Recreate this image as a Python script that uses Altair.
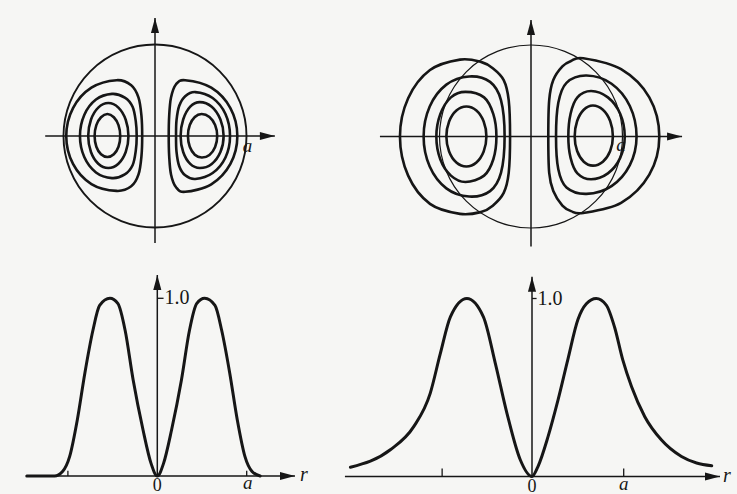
import altair as alt
import pandas as pd

INK = "#161616"
PAPER = "#f6f6f4"
SERIF = "Liberation Serif"

# ---------------------------------------------------------------------------
# Radial field profiles (r in units of the core radius a, field normalised to 1)
# ---------------------------------------------------------------------------
core_r = [-1.46, -1.15, -1.06, -0.98, -0.895, -0.81, -0.72, -0.645, -0.53, -0.44,
          -0.36, -0.27, -0.16, -0.07, 0.0, 0.07, 0.16, 0.27, 0.36, 0.44, 0.53,
          0.645, 0.72, 0.81, 0.895, 0.98, 1.06, 1.15]
core_field = [0.0, 0.0, 0.025, 0.11, 0.315, 0.58, 0.82, 0.96, 1.0, 0.97,
              0.82, 0.54, 0.26, 0.071, 0.0, 0.071, 0.26, 0.54, 0.82, 0.97, 1.0,
              0.96, 0.82, 0.58, 0.315, 0.11, 0.025, 0.0]

guide_r = [-1.98, -1.545, -1.29, -1.11, -1.0, -0.89, -0.71, -0.53, -0.40, -0.273,
           -0.128, 0.0, 0.065, 0.175, 0.284, 0.39, 0.50, 0.593, 0.70, 0.81, 0.90,
           0.99, 1.085, 1.23, 1.41, 1.63, 1.96]
guide_field = [0.052, 0.15, 0.28, 0.467, 0.69, 0.897, 1.0, 0.897, 0.636, 0.355,
               0.094, 0.0, 0.056, 0.224, 0.43, 0.655, 0.88, 0.97, 1.0, 0.963, 0.84,
               0.655, 0.505, 0.336, 0.206, 0.112, 0.06]

# ---------------------------------------------------------------------------
# Field lines in the cross-section, (x/a, y/a) around each closed line
# ---------------------------------------------------------------------------
core_lines = [
    # right lobe, inner to outer
    [(0.51, 0.24), (0.595, 0.208), (0.657, 0.12), (0.68, 0.0), (0.657, -0.12),
     (0.595, -0.208), (0.51, -0.235), (0.435, -0.204), (0.38, -0.118), (0.36, 0.0),
     (0.38, 0.12), (0.435, 0.208)],
    [(0.49, 0.37), (0.62, 0.32), (0.715, 0.18), (0.75, 0.0), (0.715, -0.175),
     (0.62, -0.305), (0.49, -0.35), (0.385, -0.305), (0.308, -0.175), (0.28, 0.0),
     (0.308, 0.18), (0.385, 0.32)],
    [(0.44, 0.48), (0.63, 0.415), (0.77, 0.24), (0.82, 0.0), (0.77, -0.235),
     (0.63, -0.405), (0.44, -0.47), (0.33, -0.43), (0.265, -0.33), (0.235, -0.17),
     (0.23, 0.0), (0.235, 0.17), (0.265, 0.33), (0.33, 0.435)],
    [(0.33, 0.61), (0.615, 0.528), (0.824, 0.305), (0.90, 0.0), (0.824, -0.305),
     (0.615, -0.528), (0.33, -0.61), (0.23, -0.56), (0.175, -0.42), (0.155, -0.22),
     (0.15, 0.0), (0.155, 0.22), (0.175, 0.42), (0.23, 0.565)],
    # left lobe, inner to outer
    [(-0.52, 0.24), (-0.59, 0.205), (-0.641, 0.118), (-0.66, 0.0), (-0.641, -0.118),
     (-0.59, -0.2), (-0.52, -0.23), (-0.45, -0.2), (-0.399, -0.118), (-0.38, 0.0),
     (-0.399, 0.118), (-0.45, 0.205)],
    [(-0.51, 0.36), (-0.62, 0.31), (-0.70, 0.178), (-0.73, 0.0), (-0.70, -0.175),
     (-0.62, -0.303), (-0.51, -0.35), (-0.40, -0.303), (-0.32, -0.175), (-0.29, 0.0),
     (-0.32, 0.178), (-0.40, 0.31)],
    [(-0.47, 0.46), (-0.645, 0.398), (-0.773, 0.23), (-0.82, 0.0), (-0.773, -0.23),
     (-0.645, -0.398), (-0.47, -0.46), (-0.33, -0.42), (-0.245, -0.32), (-0.21, -0.16),
     (-0.20, 0.0), (-0.21, 0.16), (-0.245, 0.32), (-0.33, 0.42)],
    [(-0.42, 0.61), (-0.695, 0.528), (-0.896, 0.305), (-0.97, 0.0), (-0.896, -0.305),
     (-0.695, -0.525), (-0.42, -0.60), (-0.26, -0.55), (-0.18, -0.42), (-0.148, -0.22),
     (-0.14, 0.0), (-0.148, 0.22), (-0.18, 0.42), (-0.26, 0.555)],
]

guide_lines = [
    # right lobe, inner to outer
    [(0.68, 0.34), (0.79, 0.294), (0.87, 0.17), (0.90, 0.0), (0.87, -0.16),
     (0.79, -0.277), (0.68, -0.32), (0.58, -0.277), (0.507, -0.16), (0.48, 0.0),
     (0.507, 0.17), (0.58, 0.294)],
    [(0.66, 0.50), (0.845, 0.43), (0.98, 0.25), (1.03, 0.0), (0.98, -0.235),
     (0.845, -0.405), (0.66, -0.47), (0.51, -0.405), (0.435, -0.235), (0.41, 0.0),
     (0.435, 0.25), (0.51, 0.43)],
    [(0.61, 0.67), (0.885, 0.58), (1.086, 0.335), (1.16, 0.0), (1.086, -0.315),
     (0.885, -0.545), (0.61, -0.63), (0.39, -0.56), (0.30, -0.36), (0.275, 0.0),
     (0.30, 0.37), (0.39, 0.59)],
    [(0.575, 0.86), (0.99, 0.74), (1.30, 0.43), (1.41, 0.0), (1.30, -0.42),
     (0.99, -0.73), (0.575, -0.84), (0.44, -0.82), (0.345, -0.76), (0.245, -0.60),
     (0.20, -0.40), (0.19, 0.0), (0.20, 0.40), (0.245, 0.62), (0.345, 0.77),
     (0.44, 0.83)],
    # left lobe, inner to outer
    [(-0.71, 0.33), (-0.82, 0.286), (-0.90, 0.165), (-0.93, 0.0), (-0.90, -0.165),
     (-0.82, -0.286), (-0.71, -0.33), (-0.60, -0.286), (-0.52, -0.165), (-0.49, 0.0),
     (-0.52, 0.165), (-0.60, 0.286)],
    [(-0.72, 0.49), (-0.88, 0.43), (-0.997, 0.245), (-1.04, 0.0), (-0.997, -0.25),
     (-0.88, -0.43), (-0.72, -0.50), (-0.516, -0.43), (-0.414, -0.25), (-0.38, 0.0),
     (-0.414, 0.245), (-0.516, 0.43)],
    [(-0.68, 0.66), (-0.93, 0.57), (-1.113, 0.33), (-1.18, 0.0), (-1.113, -0.33),
     (-0.93, -0.57), (-0.68, -0.66), (-0.45, -0.60), (-0.33, -0.40), (-0.29, 0.0),
     (-0.33, 0.40), (-0.45, 0.60)],
    [(-0.78, 0.845), (-1.11, 0.73), (-1.35, 0.42), (-1.44, 0.0), (-1.35, -0.43),
     (-1.11, -0.74), (-0.78, -0.85), (-0.55, -0.83), (-0.42, -0.76), (-0.30, -0.62),
     (-0.245, -0.40), (-0.23, 0.0), (-0.245, 0.40), (-0.30, 0.62), (-0.42, 0.75),
     (-0.55, 0.82)],
]

# boundary of the core: radius a
core_radius = [1.0]

# arrowhead symbols, tip at the anchor point
HEAD_RIGHT = "M0,0L-1,-0.27L-1,0.27Z"
HEAD_UP = "M0,0L-0.27,1L0.27,1Z"
HEAD_SIZE = 900


def frame(width, height, ox, oy, ppu_x, ppu_y):
    xs = alt.Scale(domain=[-ox / ppu_x, (width - ox) / ppu_x], nice=False, zero=False)
    ys = alt.Scale(domain=[-(height - oy) / ppu_y, oy / ppu_y], nice=False, zero=False)
    return xs, ys


def enc(xs, ys, xf="u", yf="v"):
    return dict(x=alt.X(f"{xf}:Q", scale=xs, axis=None),
                y=alt.Y(f"{yf}:Q", scale=ys, axis=None))


def arrows(xs, ys, h0, h1, v0, v1, width=1.5):
    lines = pd.DataFrame({"u": [h0, 0.0], "u2": [h1, 0.0],
                          "v": [0.0, v0], "v2": [0.0, v1]})
    rule = alt.Chart(lines).mark_rule(color=INK, strokeWidth=width).encode(
        **enc(xs, ys), x2="u2:Q", y2="v2:Q")
    right = alt.Chart(pd.DataFrame({"u": [h1], "v": [0.0]})).mark_point(
        shape=HEAD_RIGHT, filled=True, color=INK, opacity=1, size=HEAD_SIZE,
        strokeWidth=0).encode(**enc(xs, ys))
    up = alt.Chart(pd.DataFrame({"u": [0.0], "v": [v1]})).mark_point(
        shape=HEAD_UP, filled=True, color=INK, opacity=1, size=HEAD_SIZE,
        strokeWidth=0).encode(**enc(xs, ys))
    return [rule, right, up]


def label(text, u, v, xs, ys, italic=False, dx=0, dy=0, align="center",
          baseline="middle", size=19):
    return alt.Chart(pd.DataFrame({"t": [text], "u": [u], "v": [v]})).mark_text(
        font=SERIF, fontSize=size, fontStyle="italic" if italic else "normal",
        color=INK, dx=dx, dy=dy, align=align, baseline=baseline).encode(
        **enc(xs, ys), text="t:N")


def field_lines(lines, xs, ys, width=2.6):
    rows = []
    for cid, pts in enumerate(lines):
        for k, (u, v) in enumerate(pts):
            rows.append({"cid": cid, "k": k, "u": u, "v": v})
    return alt.Chart(pd.DataFrame(rows)).mark_line(
        interpolate="cardinal-closed", color=INK, strokeWidth=width).encode(
        **enc(xs, ys), detail="cid:N", order="k:Q")


def boundary(xs, ys, ppu, width):
    return alt.Chart(pd.DataFrame({"u": [0.0], "v": [0.0], "rad": core_radius})).mark_point(
        shape="circle", filled=False, color=INK, opacity=1, strokeWidth=width).encode(
        **enc(xs, ys),
        size=alt.Size("rad:Q", legend=None,
                      scale=alt.Scale(type="pow", exponent=2, domain=[0, 1],
                                      range=[0, (2 * ppu) ** 2])))


def profile(r, f, xs, ys):
    return alt.Chart(pd.DataFrame({"u": r, "v": f})).mark_line(
        interpolate="monotone", color=INK, strokeWidth=3.0, strokeCap="round").encode(
        **enc(xs, ys), order="u:Q")


def ticks(xs, ys, positions, up, top_len):
    df = pd.DataFrame({"u": positions, "v": [0.0] * len(positions),
                       "v2": [up] * len(positions)})
    t = alt.Chart(df).mark_rule(color=INK, strokeWidth=1.3).encode(**enc(xs, ys), y2="v2:Q")
    one = alt.Chart(pd.DataFrame({"u": [0.0], "u2": [top_len], "v": [1.0]})).mark_rule(
        color=INK, strokeWidth=1.3).encode(**enc(xs, ys), x2="u2:Q")
    return [t, one]


# panel grid: column widths and row heights
COL1, COL2 = 368, 369
ROW1, ROW2 = 260, 234

# ---- upper left: field lines inside the core ----
xs, ys = frame(COL1, ROW1, 155, 136, 91.5, 91.5)
top_left = alt.layer(
    boundary(xs, ys, 91.5, 1.9),
    field_lines(core_lines, xs, ys),
    *arrows(xs, ys, -1.20, 1.31, -1.17, 1.29),
    label("a", 1.0, 0.0, xs, ys, italic=True, dx=1, dy=10),
).properties(width=COL1, height=ROW1)

# ---- upper right: field lines spreading past the core ----
xs, ys = frame(COL2, ROW1, 163, 136.5, 91, 91)
top_right = alt.layer(
    boundary(xs, ys, 91, 1.2),
    field_lines(guide_lines, xs, ys),
    *arrows(xs, ys, -1.66, 1.66, -1.21, 1.28),
    label("a", 0.99, 0.0, xs, ys, italic=True, dy=8),
).properties(width=COL2, height=ROW1)

# ---- lower left: radial profile ----
xs, ys = frame(COL1, ROW2, 157.3, 216, 89.4, 177.7)
bottom_left = alt.layer(
    *arrows(xs, ys, -1.46, 1.54, 0.0, 1.131),
    *ticks(xs, ys, [-1.0, 1.0], 0.03, 0.07),
    profile(core_r, core_field, xs, ys),
    label("1.0", 0.07, 1.0, xs, ys, align="left", dx=1, size=20),
    label("0", 0.0, 0.0, xs, ys, baseline="alphabetic", dy=15, size=18),
    label("a", 1.0, 0.0, xs, ys, italic=True, baseline="alphabetic", dx=1, dy=13, size=19),
    label("r", 1.54, 0.0, xs, ys, italic=True, align="left", dx=5, dy=-1, size=20),
).properties(width=COL1, height=ROW2)

# ---- lower right: radial profile ----
xs, ys = frame(COL2, ROW2, 164, 216.5, 91.7, 178)
bottom_right = alt.layer(
    *arrows(xs, ys, -2.04, 2.05, 0.0, 1.122),
    *ticks(xs, ys, [-0.98, 1.0], 0.045, 0.05),
    profile(guide_r, guide_field, xs, ys),
    label("1.0", 0.05, 1.0, xs, ys, align="left", dx=1, size=20),
    label("0", 0.0, 0.0, xs, ys, baseline="alphabetic", dy=15, size=18),
    label("a", 1.0, 0.0, xs, ys, italic=True, baseline="alphabetic", dy=13, size=19),
    label("r", 2.05, 0.0, xs, ys, italic=True, align="left", dx=3, dy=-1, size=20),
).properties(width=COL2, height=ROW2)

chart = alt.concat(
    top_left, top_right, bottom_left, bottom_right,
    columns=2, spacing=0, bounds="flush",
).properties(padding=0, background=PAPER).configure_view(stroke=None)

chart.save("out.html", embed_options={"renderer": "svg", "actions": False})
